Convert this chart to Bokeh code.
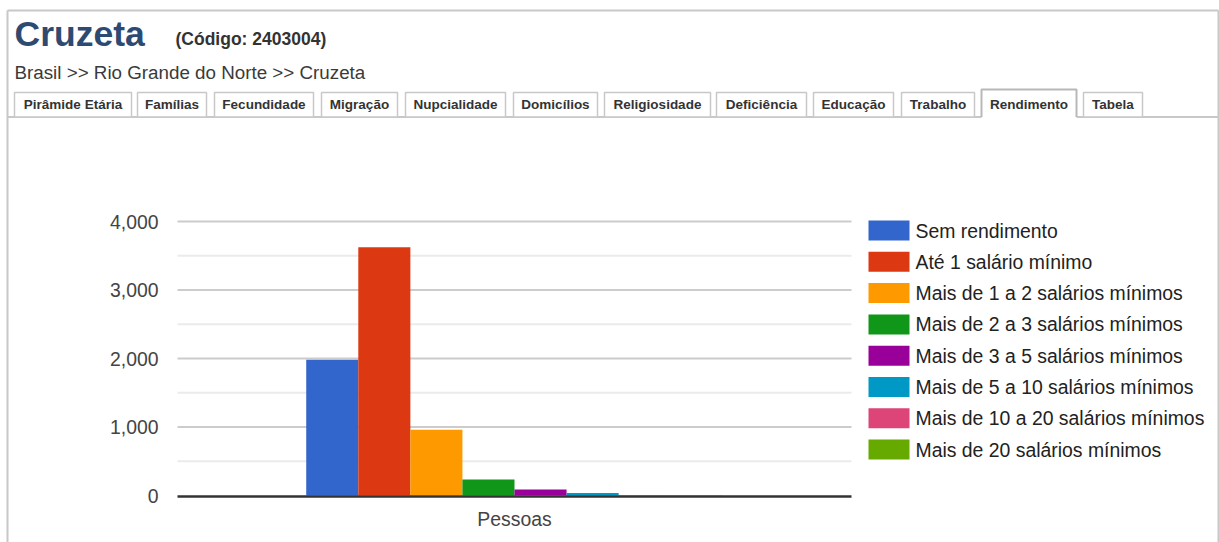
from bokeh.plotting import figure
from bokeh.models import (Range1d, LinearAxis, FixedTicker, NumeralTickFormatter,
                          ColumnDataSource)
from bokeh.core.properties import value
from bokeh.embed import file_html
from bokeh.resources import INLINE

# ---- data -------------------------------------------------------------
categories = ["Pessoas"]
series = [
    "Sem rendimento",
    "Até 1 salário mínimo",
    "Mais de 1 a 2 salários mínimos",
    "Mais de 2 a 3 salários mínimos",
    "Mais de 3 a 5 salários mínimos",
    "Mais de 5 a 10 salários mínimos",
    "Mais de 10 a 20 salários mínimos",
    "Mais de 20 salários mínimos",
]
values = [1981, 3625, 959, 234, 88, 38, 4, 2]
colors = ["#3366cc", "#dc3912", "#ff9900", "#109618",
          "#990099", "#0099c6", "#dd4477", "#66aa00"]
y_ticks = [0, 1000, 2000, 3000, 4000]
y_minor_ticks = [500, 1500, 2500, 3500]

place_name = "Cruzeta"
place_code = "(Código: 2403004)"
breadcrumb = "Brasil >> Rio Grande do Norte >> Cruzeta"
tabs = ["Pirâmide Etária", "Famílias", "Fecundidade", "Migração", "Nupcialidade",
        "Domicílios", "Religiosidade", "Deficiência", "Educação", "Trabalho",
        "Rendimento", "Tabela"]
active_tab = "Rendimento"

# ---- layout (canvas pixels, y measured downward) ----------------------
W, H = 1219, 542
PLOT_L, PLOT_R = 177, 851
PLOT_T, PLOT_B = 221, 495
AXIS_MAX = 4000
GROUP = 0.618
FONT = value("Liberation Sans")
BORDER = "#c8c8c8"
FRAME_L, FRAME_R, FRAME_T = 7, 1218, 10
CHART_FONT_SIZE = "19.4px"

tab_left = [14, 137, 214, 321, 405, 513, 604, 716, 813, 901, 981, 1083]
tab_right = [131, 206, 313, 397, 505, 597, 710, 806, 893, 974, 1076, 1142]
TAB_TOP, TAB_BOTTOM, TAB_ACTIVE_TOP = 92, 116.5, 89

p = figure(width=W, height=H, x_range=Range1d(0, W), y_range=Range1d(H, 0),
           x_axis_type=None, y_axis_type=None, toolbar_location=None,
           output_backend="svg", min_border=0, outline_line_color=None,
           background_fill_color="white", border_fill_color="white")
p.min_border_left = p.min_border_right = p.min_border_top = p.min_border_bottom = 0

# value scale and category scale for the chart area
v_per_px = AXIS_MAX / (PLOT_B - PLOT_T)
p.extra_y_ranges = {"val": Range1d(-(H - PLOT_B) * v_per_px, AXIS_MAX + PLOT_T * v_per_px)}
c_per_px = len(categories) / (PLOT_R - PLOT_L)
p.extra_x_ranges = {"cat": Range1d(-PLOT_L * c_per_px, len(categories) + (W - PLOT_R) * c_per_px)}

# ---- page frame -------------------------------------------------------
p.segment(x0=[FRAME_L, FRAME_L, FRAME_R], y0=[FRAME_T] * 3,
          x1=[FRAME_R, FRAME_L, FRAME_R], y1=[FRAME_T, H, H],
          line_color=BORDER, line_width=2)

p.text(x=[14], y=[33], text=[place_name], text_font=FONT, text_font_style="bold",
       text_font_size="35.5px", text_color="#2d4b72", text_baseline="middle")
p.text(x=[175], y=[38.5], text=[place_code], text_font=FONT, text_font_style="bold",
       text_font_size="17.5px", text_color="#333333", text_baseline="middle")
p.text(x=[14], y=[71.5], text=[breadcrumb], text_font=FONT,
       text_font_size="18.8px", text_color="#3a3a3a", text_baseline="middle")

# tab strip
p.segment(x0=[FRAME_L], y0=[TAB_BOTTOM], x1=[FRAME_R], y1=[TAB_BOTTOM],
          line_color=BORDER, line_width=2)
inactive = [i for i, t in enumerate(tabs) if t != active_tab]
p.quad(left=[tab_left[i] for i in inactive], right=[tab_right[i] for i in inactive],
       top=[TAB_TOP] * len(inactive), bottom=[TAB_BOTTOM] * len(inactive),
       fill_color="white", line_color=BORDER, line_width=1.5)
ia = tabs.index(active_tab)
p.quad(left=[tab_left[ia]], right=[tab_right[ia]], top=[TAB_ACTIVE_TOP], bottom=[TAB_BOTTOM + 1.5],
       fill_color="white", line_color=None)
p.multi_line(xs=[[tab_left[ia], tab_left[ia], tab_right[ia], tab_right[ia]]],
             ys=[[TAB_BOTTOM, TAB_ACTIVE_TOP, TAB_ACTIVE_TOP, TAB_BOTTOM]],
             line_color="#b8b8b8", line_width=2)
p.text(x=[(l + r) / 2 for l, r in zip(tab_left, tab_right)], y=[104] * len(tabs), text=tabs,
       text_font=FONT, text_font_style="bold", text_font_size="13.5px",
       text_color="#333333", text_align="center", text_baseline="middle")

# ---- chart ------------------------------------------------------------
p.segment(x0=PLOT_L, x1=PLOT_R, y0=y_minor_ticks, y1=y_minor_ticks,
          line_color="#ebebeb", line_width=2, y_range_name="val")
p.segment(x0=PLOT_L, x1=PLOT_R, y0=y_ticks[1:], y1=y_ticks[1:],
          line_color="#cccccc", line_width=2, y_range_name="val")

bw = GROUP / len(series)
bar_x, bar_top, bar_col = [], [], []
for ci, _ in enumerate(categories):
    for si, v in enumerate(values):
        bar_x.append(ci + 0.5 - GROUP / 2 + (si + 0.5) * bw)
        bar_top.append(v)
        bar_col.append(colors[si])
bars = ColumnDataSource(dict(x=bar_x, top=bar_top, color=bar_col))
p.vbar(x="x", top="top", bottom=0, width=bw, source=bars, fill_color="color",
       line_color=None, x_range_name="cat", y_range_name="val")

yaxis = LinearAxis(y_range_name="val", fixed_location=PLOT_L,
                   ticker=FixedTicker(ticks=y_ticks),
                   formatter=NumeralTickFormatter(format="0,0"))
yaxis.axis_line_color = None
yaxis.major_tick_line_color = None
yaxis.minor_tick_line_color = None
yaxis.major_tick_out = 0
yaxis.major_tick_in = 0
yaxis.major_label_standoff = 19
yaxis.major_label_text_font = "Liberation Sans"
yaxis.major_label_text_font_size = CHART_FONT_SIZE
yaxis.major_label_text_color = "#444444"
p.add_layout(yaxis, "left")

cat_ticks = [ci + 0.5 for ci in range(len(categories))]
xaxis = LinearAxis(x_range_name="cat", fixed_location=PLOT_B + 0.5,
                   ticker=FixedTicker(ticks=cat_ticks), bounds=(0, len(categories)))
xaxis.major_label_overrides = {t: c for t, c in zip(cat_ticks, categories)}
xaxis.axis_line_color = "#333333"
xaxis.axis_line_width = 2.5
xaxis.major_tick_line_color = None
xaxis.minor_tick_line_color = None
xaxis.major_tick_out = 0
xaxis.major_tick_in = 0
xaxis.major_label_standoff = 12
xaxis.major_label_text_font = "Liberation Sans"
xaxis.major_label_text_font_size = CHART_FONT_SIZE
xaxis.major_label_text_color = "#444444"
p.add_layout(xaxis, "below")

# legend
LEG_X, LEG_Y0, LEG_DY = 868, 230, 31.3
leg_y = [LEG_Y0 + i * LEG_DY for i in range(len(series))]
p.quad(left=LEG_X, right=LEG_X + 41, top=[y - 10 for y in leg_y], bottom=[y + 10 for y in leg_y],
       fill_color=colors, line_color=None)
p.text(x=LEG_X + 47, y=leg_y, text=series, text_font=FONT, text_font_size=CHART_FONT_SIZE,
       text_color="#222222", text_baseline="middle")

open("out.html", "w").write(file_html(p, INLINE))
